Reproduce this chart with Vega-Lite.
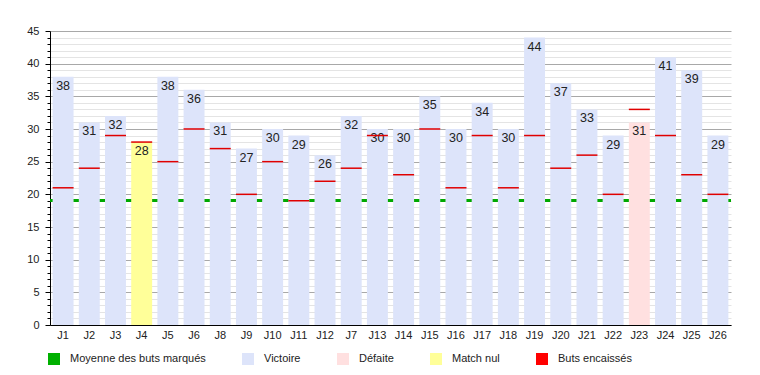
{
  "$schema": "https://vega.github.io/schema/vega-lite/v6.json",
  "autosize": {"type": "none"},
  "padding": {"left": 50, "top": 31, "right": 29, "bottom": 50},
  "width": 681,
  "height": 294,
  "background": "white",
  "config": {
    "font": "Liberation Sans",
    "view": {"stroke": null},
    "axis": {"labelFont": "Liberation Sans", "labelColor": "#222", "labelFontSize": 11}
  },
  "data": {
    "values": [
      {"journee": "J1", "buts": 38, "encaisses": 21, "resultat": "Victoire"},
      {"journee": "J2", "buts": 31, "encaisses": 24, "resultat": "Victoire"},
      {"journee": "J3", "buts": 32, "encaisses": 29, "resultat": "Victoire"},
      {"journee": "J4", "buts": 28, "encaisses": 28, "resultat": "Match nul"},
      {"journee": "J5", "buts": 38, "encaisses": 25, "resultat": "Victoire"},
      {"journee": "J6", "buts": 36, "encaisses": 30, "resultat": "Victoire"},
      {"journee": "J8", "buts": 31, "encaisses": 27, "resultat": "Victoire"},
      {"journee": "J9", "buts": 27, "encaisses": 20, "resultat": "Victoire"},
      {"journee": "J10", "buts": 30, "encaisses": 25, "resultat": "Victoire"},
      {"journee": "J11", "buts": 29, "encaisses": 19, "resultat": "Victoire"},
      {"journee": "J12", "buts": 26, "encaisses": 22, "resultat": "Victoire"},
      {"journee": "J7", "buts": 32, "encaisses": 24, "resultat": "Victoire"},
      {"journee": "J13", "buts": 30, "encaisses": 29, "resultat": "Victoire"},
      {"journee": "J14", "buts": 30, "encaisses": 23, "resultat": "Victoire"},
      {"journee": "J15", "buts": 35, "encaisses": 30, "resultat": "Victoire"},
      {"journee": "J16", "buts": 30, "encaisses": 21, "resultat": "Victoire"},
      {"journee": "J17", "buts": 34, "encaisses": 29, "resultat": "Victoire"},
      {"journee": "J18", "buts": 30, "encaisses": 21, "resultat": "Victoire"},
      {"journee": "J19", "buts": 44, "encaisses": 29, "resultat": "Victoire"},
      {"journee": "J20", "buts": 37, "encaisses": 24, "resultat": "Victoire"},
      {"journee": "J21", "buts": 33, "encaisses": 26, "resultat": "Victoire"},
      {"journee": "J22", "buts": 29, "encaisses": 20, "resultat": "Victoire"},
      {"journee": "J23", "buts": 31, "encaisses": 33, "resultat": "Défaite"},
      {"journee": "J24", "buts": 41, "encaisses": 29, "resultat": "Victoire"},
      {"journee": "J25", "buts": 39, "encaisses": 23, "resultat": "Victoire"},
      {"journee": "J26", "buts": 29, "encaisses": 20, "resultat": "Victoire"}
    ]
  },
  "encoding": {
    "x": {
      "field": "journee", "type": "nominal", "sort": null, "title": null,
      "scale": {"paddingInner": 0.2, "paddingOuter": 0.1},
      "axis": {"labelAngle": 0, "ticks": false, "domainColor": "#000", "labelPadding": 4}
    }
  },
  "layer": [
    {
      "mark": {"type": "rule", "color": "#00a800", "strokeWidth": 2},
      "encoding": {
        "x": null,
        "y": {
          "datum": 19, "type": "quantitative",
          "scale": {"domain": [0, 45], "nice": false},
          "axis": {
            "values": [1,2,3,4,6,7,8,9,11,12,13,14,16,17,18,19,21,22,23,24,26,27,28,29,31,32,33,34,36,37,38,39,41,42,43,44],
            "labels": false, "domain": false, "tickSize": 3, "tickColor": "#000",
            "grid": true, "gridColor": "#e4e4e4", "title": null, "orient": "left"
          }
        }
      }
    },
    {
      "mark": {"type": "bar"},
      "encoding": {
        "y": {
          "field": "buts", "type": "quantitative",
          "axis": {
            "values": [0,5,10,15,20,25,30,35,40,45], "tickSize": 5, "tickColor": "#000",
            "domainColor": "#000", "grid": true, "gridColor": "#a8a8a8", "labelPadding": 6,
            "title": null, "orient": "left"
          }
        },
        "color": {
          "field": "resultat", "type": "nominal",
          "scale": {
            "domain": ["Moyenne des buts marqués", "Victoire", "Défaite", "Match nul", "Buts encaissés"],
            "range": ["#00b000", "#dde4fa", "#ffe0e0", "#ffff99", "#ff0000"]
          },
          "legend": {
            "title": null, "orient": "none", "legendX": -2, "legendY": 322,
            "direction": "horizontal", "symbolType": "square", "symbolSize": 144,
            "symbolStrokeWidth": 0, "symbolOpacity": 1, "labelFontSize": 11, "labelOffset": 10,
            "columnPadding": 36, "gridAlign": "none", "labelColor": "#222", "labelFont": "Liberation Sans"
          }
        }
      }
    },
    {
      "mark": {"type": "text", "baseline": "middle", "dy": 9, "fontSize": 12.5, "color": "#222"},
      "encoding": {
        "y": {"field": "buts", "type": "quantitative", "axis": null},
        "text": {"field": "buts", "type": "quantitative"}
      }
    },
    {
      "mark": {"type": "tick", "orient": "horizontal", "color": "#e00000", "thickness": 1.5, "size": 21, "opacity": 1},
      "encoding": {
        "y": {"field": "encaisses", "type": "quantitative", "axis": null}
      }
    }
  ],
  "resolve": {"axis": {"y": "independent"}}
}
